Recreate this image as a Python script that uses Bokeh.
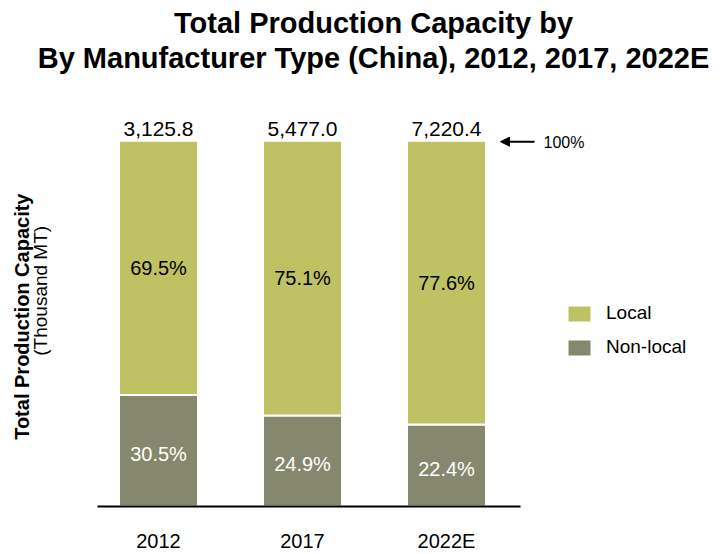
import math
from bokeh.plotting import figure
from bokeh.models import (ColumnDataSource, Range1d, FixedTicker, Legend, LegendItem,
                          Arrow, NormalHead)
from bokeh.core.properties import value
from bokeh.embed import file_html
from bokeh.resources import INLINE

# ---- data ----
years = ["2012", "2017", "2022E"]
local_pct = [69.5, 75.1, 77.6]
nonlocal_pct = [30.5, 24.9, 22.4]
totals = [3125.8, 5477.0, 7220.4]

title_lines = ["Total Production Capacity by",
               "By Manufacturer Type (China), 2012, 2017, 2022E"]
ylabel_main = "Total Production Capacity"
ylabel_sub = "(Thousand MT)"

# ---- layout helpers (pixel -> data) ----
W, H = 722, 554
FRAME_BOTTOM = 520
PX_PER_X = 144.0
X0 = -158.0 / PX_PER_X
K = 100.0 / 368.0          # data units per pixel (y)
BASE_PX = 509.0


def xd(px):
    return X0 + px / PX_PER_X


def yd(py):
    return (BASE_PX - py) * K


FONT = value("Liberation Sans")
LOCAL_C = "#BEC262"
NONLOCAL_C = "#86886D"

idx = list(range(len(years)))
src = ColumnDataSource(dict(
    x=idx,
    nonlocal_=nonlocal_pct,
    local=local_pct,
    local_mid=[n + l / 2 for n, l in zip(nonlocal_pct, local_pct)],
    non_mid=[n / 2 for n in nonlocal_pct],
    top=[n + l for n, l in zip(nonlocal_pct, local_pct)],
    local_lbl=[f"{v:.1f}%" for v in local_pct],
    non_lbl=[f"{v:.1f}%" for v in nonlocal_pct],
    tot_lbl=[f"{v:,.1f}" for v in totals],
))

p = figure(width=W, height=H, output_backend="svg", toolbar_location=None,
           x_range=Range1d(xd(0), xd(W)), y_range=Range1d(yd(FRAME_BOTTOM), yd(0)),
           y_axis_location=None, min_border_left=0, min_border_right=0,
           min_border_top=0, min_border_bottom=H - FRAME_BOTTOM)
p.outline_line_color = None
p.xgrid.visible = False
p.ygrid.visible = False
p.background_fill_color = "white"
p.border_fill_color = "white"

bar_w = 79.0 / PX_PER_X
r_non, r_loc = p.vbar_stack(["nonlocal_", "local"], x="x", width=bar_w, source=src,
                            fill_color=[NONLOCAL_C, LOCAL_C], line_color="white",
                            line_width=2)

# baseline
p.segment(x0=[xd(97)], y0=[0], x1=[xd(520)], y1=[0], line_color="black", line_width=2)

# x axis
ax = p.xaxis[0]
ax.ticker = FixedTicker(ticks=idx)
ax.major_label_overrides = {i: y for i, y in zip(idx, years)}
ax.axis_line_color = None
ax.major_tick_line_color = None
ax.minor_tick_line_color = None
ax.major_tick_out = 0
ax.major_tick_in = 0
ax.major_label_standoff = 12
ax.major_label_text_font = "Liberation Sans"
ax.major_label_text_font_size = "20px"
ax.major_label_text_color = "black"

# bar labels
p.text(x="x", y="local_mid", text="local_lbl", source=src, text_font=FONT,
       text_font_size="20px", text_align="center", text_baseline="middle",
       text_color="black")
p.text(x="x", y="non_mid", text="non_lbl", source=src, text_font=FONT,
       text_font_size="20px", text_align="center", text_baseline="middle",
       text_color="white", y_offset=3)
p.text(x="x", y="top", text="tot_lbl", source=src, text_font=FONT,
       text_font_size="21px", text_align="center", text_baseline="bottom",
       text_color="black", y_offset=-5)

# 100% arrow
p.add_layout(Arrow(end=NormalHead(size=9, fill_color="black", line_color="black"),
                   x_start=xd(534), y_start=yd(142), x_end=xd(500), y_end=yd(142),
                   line_color="black", line_width=2))
p.text(x=[xd(543)], y=[yd(143)], text=["100%"], text_font=FONT, text_font_size="16px",
       text_align="left", text_baseline="middle", text_color="black")

# title
p.text(x=[xd(373), xd(373)], y=[yd(23), yd(58)], text=title_lines, text_font=FONT,
       text_font_size="29px", text_font_style="bold", text_align="center",
       text_baseline="middle", text_color="black")

# y label (two lines)
p.text(x=[xd(21)], y=[yd(318)], text=[ylabel_main], text_font=FONT,
       text_font_size="20px", text_font_style="bold", angle=math.pi / 2,
       text_align="center", text_baseline="middle", text_color="black")
p.text(x=[xd(40)], y=[yd(292)], text=[ylabel_sub], text_font=FONT,
       text_font_size="19px", angle=math.pi / 2,
       text_align="center", text_baseline="middle", text_color="black")

# legend
legend = Legend(items=[LegendItem(label="Local", renderers=[r_loc]),
                       LegendItem(label="Non-local", renderers=[r_non])],
                location=(564, FRAME_BOTTOM - 361), orientation="vertical",
                glyph_width=30, glyph_height=21, label_height=21, spacing=12,
                label_standoff=12, padding=10, margin=0,
                label_text_font="Liberation Sans", label_text_font_size="19px",
                label_text_color="black", background_fill_alpha=0,
                border_line_color=None)
p.add_layout(legend, "center")

open("out.html", "w").write(file_html(p, INLINE))
